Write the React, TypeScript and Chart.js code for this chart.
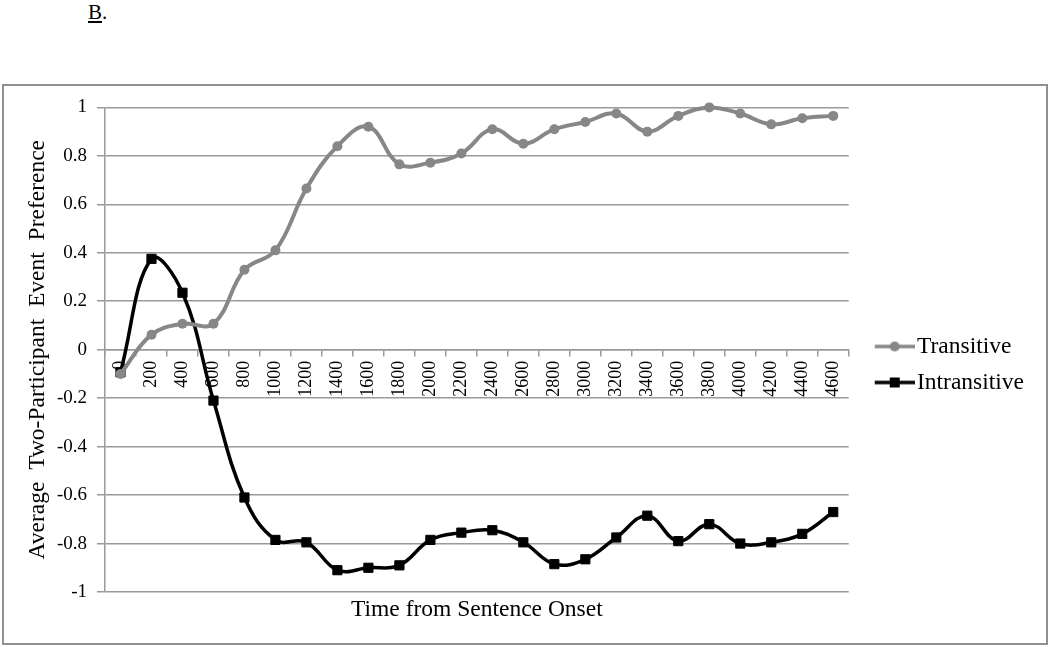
import React, { useEffect, useRef } from 'react';
import { Chart, registerables } from 'chart.js';

Chart.register(...registerables);

const timeLabels = ['0', '200', '400', '600', '800', '1000', '1200', '1400', '1600', '1800', '2000', '2200', '2400', '2600', '2800', '3000', '3200', '3400', '3600', '3800', '4000', '4200', '4400', '4600'];
const transitiveValues = [-0.10, 0.062, 0.107, 0.107, 0.33, 0.41, 0.665, 0.84, 0.92, 0.765, 0.772, 0.81, 0.91, 0.85, 0.91, 0.94, 0.975, 0.90, 0.965, 1.0, 0.975, 0.93, 0.955, 0.965];
const intransitiveValues = [-0.093, 0.375, 0.235, -0.21, -0.61, -0.785, -0.795, -0.91, -0.90, -0.89, -0.785, -0.755, -0.745, -0.795, -0.885, -0.865, -0.775, -0.685, -0.79, -0.72, -0.80, -0.795, -0.76, -0.67];
const seriesNames = ['Transitive', 'Intransitive'];
const xTitle = 'Time from Sentence Onset';
const yTitle = 'Average  Two-Participant  Event  Preference';

const GRAY = '#878787';
const BLACK = '#000000';
const GRID = '#9a9a9a';
const FONT = '"Liberation Serif", "Times New Roman", serif';

function legendImage(color: string, kind: 'circle' | 'rect'): HTMLCanvasElement {
  const c = document.createElement('canvas');
  c.width = 63;
  c.height = 14;
  const ctx = c.getContext('2d')!;
  ctx.strokeStyle = color;
  ctx.lineWidth = 3.5;
  ctx.beginPath();
  ctx.moveTo(23, 7);
  ctx.lineTo(63, 7);
  ctx.stroke();
  ctx.fillStyle = color;
  if (kind === 'circle') {
    ctx.beginPath();
    ctx.arc(43, 7, 5, 0, Math.PI * 2);
    ctx.fill();
  } else {
    ctx.fillRect(38, 2, 10, 10);
  }
  return c;
}

export default function App() {
  const ref = useRef<HTMLCanvasElement | null>(null);

  useEffect(() => {
    document.body.style.margin = '0';
    const canvas = ref.current;
    if (!canvas) return;
    const imgs = [legendImage(GRAY, 'circle'), legendImage(BLACK, 'rect')];
    const chart = new Chart(canvas, {
      type: 'line',
      data: {
        labels: timeLabels,
        datasets: [
          {
            label: seriesNames[0],
            data: transitiveValues,
            borderColor: GRAY,
            backgroundColor: GRAY,
            borderWidth: 4,
            pointStyle: 'circle',
            pointRadius: 5,
            pointBorderWidth: 0,
            tension: 0.4,
            clip: false,
          },
          {
            label: seriesNames[1],
            data: intransitiveValues,
            borderColor: BLACK,
            backgroundColor: BLACK,
            borderWidth: 3.5,
            pointStyle: 'rect',
            pointRadius: 6.5,
            pointBorderWidth: 1,
            tension: 0.4,
            clip: false,
          },
        ],
      },
      options: {
        responsive: false,
        animation: false,
        events: [],
        layout: { padding: { top: 0, right: 12, left: 0, bottom: 0 } },
        scales: {
          x: {
            type: 'category',
            position: { y: 0 } as any,
            offset: true,
            grid: { display: true, drawOnChartArea: false, offset: true, tickLength: 6, color: GRID, lineWidth: 1.5 },
            border: { display: true, color: GRID, width: 1.5 },
            ticks: {
              autoSkip: false,
              minRotation: 90,
              maxRotation: 90,
              padding: 5,
              color: '#000',
              font: { family: FONT, size: 18 },
            },
          },
          y: {
            min: -1,
            max: 1,
            afterFit: (s: any) => { s.width = 101; },
            grid: { color: GRID, lineWidth: 1.5, tickLength: 8 },
            border: { display: true, color: GRID, width: 1.5 },
            ticks: {
              stepSize: 0.2,
              padding: 10,
              color: '#000',
              font: { family: FONT, size: 19 },
              callback: (v: any) => String(Math.round(Number(v) * 10) / 10),
            },
            title: {
              display: true,
              text: yTitle,
              color: '#000',
              font: { family: FONT, size: 23.5 },
              padding: { top: 20, bottom: 0 },
            },
          },
        },
        plugins: {
          tooltip: { enabled: false },
          subtitle: {
            display: true,
            text: ' ',
            position: 'top',
            fullSize: false,
            font: { family: FONT, size: 10, lineHeight: 1 },
            padding: { top: 8, bottom: 0 },
          },
          title: {
            display: true,
            text: xTitle,
            position: 'bottom',
            fullSize: false,
            color: '#000',
            font: { family: FONT, size: 23.5, weight: 'normal' },
            padding: { top: 4, bottom: 18.8 },
          },
          legend: {
            position: 'right',
            align: 'center',
            labels: {
              usePointStyle: true,
              pointStyleWidth: 44,
              padding: 12.5,
              color: '#000',
              font: { family: FONT, size: 23.5 },
              generateLabels: () =>
                seriesNames.map((name, i) => ({
                  text: name,
                  pointStyle: imgs[i] as any,
                  fillStyle: 'transparent',
                  strokeStyle: 'transparent',
                  lineWidth: 0,
                  hidden: false,
                  datasetIndex: i,
                  fontColor: '#000',
                })),
            },
          },
        },
      } as any,
    });
    return () => chart.destroy();
  }, []);

  return (
    <div style={{ position: 'absolute', left: 0, top: 0, width: 1050, height: 647, background: '#fff', overflow: 'hidden' }}>
      <div style={{ position: 'absolute', left: 88, top: 0, fontFamily: FONT, fontSize: 21, lineHeight: '25px', color: '#000' }}>
        <span style={{ textDecoration: 'underline' }}>B</span>.
      </div>
      <div style={{ position: 'absolute', left: 2, top: 84, width: 1042, height: 557, border: '2px solid #8f8f8f' }}>
        <canvas ref={ref} width={1042} height={557} style={{ display: 'block', width: 1042, height: 557 }} />
      </div>
    </div>
  );
}
